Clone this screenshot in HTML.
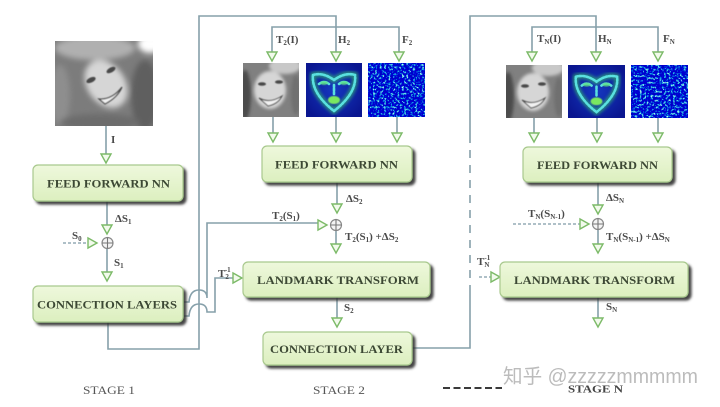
<!DOCTYPE html>
<html><head><meta charset="utf-8"><style>
html,body{margin:0;padding:0;background:#fff;}
svg{display:block;}
</style></head><body>
<svg width="720" height="407" viewBox="0 0 720 407" xmlns="http://www.w3.org/2000/svg">
<defs>
  <linearGradient id="bx" x1="0" y1="0" x2="0" y2="1">
    <stop offset="0" stop-color="#eef8dc"/>
    <stop offset="1" stop-color="#dcefbf"/>
  </linearGradient>
  <filter id="sh" x="-10%" y="-20%" width="130%" height="160%">
    <feDropShadow dx="3" dy="3" stdDeviation="1.3" flood-color="#333" flood-opacity="0.9"/>
  </filter>
  <filter id="bl1"><feGaussianBlur stdDeviation="3"/></filter>
  <filter id="bl2"><feGaussianBlur stdDeviation="1.5"/></filter>
  <filter id="bl05"><feGaussianBlur stdDeviation="0.6"/></filter>
  <filter id="noise" x="0" y="0" width="100%" height="100%">
    <feTurbulence type="fractalNoise" baseFrequency="0.45" numOctaves="2" seed="3" result="n"/>
    <feColorMatrix in="n" type="matrix" values="3 0 0 0 -1.95  3.6 0 0 0 -1.95  0.5 0 0 0 0.42  0 0 0 0 1"/>
  </filter>
  <filter id="noise2" x="0" y="0" width="100%" height="100%">
    <feTurbulence type="fractalNoise" baseFrequency="0.45" numOctaves="2" seed="11" result="n"/>
    <feColorMatrix in="n" type="matrix" values="3 0 0 0 -1.95  3.6 0 0 0 -1.95  0.5 0 0 0 0.42  0 0 0 0 1"/>
  </filter>
  <radialGradient id="hmbg" cx="0.5" cy="0.5" r="0.6">
    <stop offset="0" stop-color="#1538c0"/>
    <stop offset="1" stop-color="#0a1690"/>
  </radialGradient>
  <clipPath id="c1"><rect x="55" y="41" width="98" height="85"/></clipPath>
  <clipPath id="c2"><rect x="243" y="63" width="56" height="54"/></clipPath>
  <clipPath id="c3"><rect x="506" y="65" width="56" height="53"/></clipPath>
  <clipPath id="c4"><rect x="306" y="63" width="56" height="54"/></clipPath>
  <clipPath id="c5"><rect x="568" y="65" width="57" height="53"/></clipPath>
  <symbol id="heart" viewBox="0 0 56 54">
    <g filter="url(#bl2)" stroke="#30b870" stroke-width="6" fill="none" opacity="0.7">
      <path d="M7,12 Q17,9 28,17 Q39,9 49,12 Q51,30 28,48 Q5,30 7,12 Z"/>
    </g>
    <g stroke="#5ae0e0" stroke-width="2.6" fill="none" stroke-dasharray="2 1.6" stroke-linecap="round">
      <path d="M7,12 Q17,9 28,17 Q39,9 49,12 Q51,30 28,48 Q5,30 7,12 Z"/>
      <path d="M13,21 Q18,17 23,21"/>
      <path d="M33,21 Q38,17 43,21"/>
      <path d="M28,22 L28,31"/>
    </g>
    <ellipse cx="28" cy="37" rx="6" ry="4" fill="#7ae860" filter="url(#bl05)"/>
    <ellipse cx="18" cy="20" rx="4" ry="2" fill="#60e080" opacity="0.8" filter="url(#bl05)"/>
    <ellipse cx="38" cy="20" rx="4" ry="2" fill="#60e080" opacity="0.8" filter="url(#bl05)"/>
  </symbol>
</defs>

<rect width="720" height="407" fill="#fff"/>

<!-- ===== Images ===== -->
<g clip-path="url(#c1)">
  <rect x="55" y="41" width="98" height="85" fill="#7c7c7c"/>
  <g filter="url(#bl1)">
    <ellipse cx="95" cy="48" rx="40" ry="12" fill="#b0b0b0"/>
    <ellipse cx="150" cy="44" rx="12" ry="9" fill="#ffffff"/>
    <ellipse cx="60" cy="95" rx="10" ry="30" fill="#8e8e8e"/>
    <ellipse cx="145" cy="95" rx="14" ry="35" fill="#5e5e5e"/>
    <ellipse cx="106" cy="84" rx="19" ry="26" transform="rotate(-35 106 84)" fill="#d6d6d6"/>
    <ellipse cx="100" cy="122" rx="40" ry="8" fill="#6c6c6c"/>
  </g>
  <g filter="url(#bl05)">
    <ellipse cx="91" cy="80" rx="5" ry="2.5" transform="rotate(-25 91 80)" fill="#4a4a4a"/>
    <ellipse cx="111" cy="70" rx="5" ry="2.5" transform="rotate(-30 111 70)" fill="#4a4a4a"/>
    <path d="M99,99 Q112,100 122,87 Q118,97 105,104 Z" fill="#f2f2f2" stroke="#4a4a4a" stroke-width="1.2"/>
  </g>
</g>
<g clip-path="url(#c2)">
  <rect x="243" y="63" width="56" height="54" fill="#808080"/>
  <g filter="url(#bl2)">
    <ellipse cx="285" cy="66" rx="16" ry="8" fill="#c8c8c8"/>
    <ellipse cx="245" cy="95" rx="6" ry="25" fill="#4c4c4c"/>
    <ellipse cx="270" cy="90" rx="16" ry="19" fill="#d6d6d6"/>
    <ellipse cx="296" cy="95" rx="5" ry="20" fill="#707070"/>
  </g>
  <g filter="url(#bl05)">
    <ellipse cx="262" cy="84" rx="4" ry="1.8" fill="#4a4a4a"/>
    <ellipse cx="279" cy="82" rx="4" ry="1.8" fill="#4a4a4a"/>
    <path d="M259,98 Q270,104 282,96 Q278,104 268,106 Z" fill="#f2f2f2" stroke="#4a4a4a" stroke-width="1"/>
  </g>
</g>
<g clip-path="url(#c3)">
  <rect x="506" y="65" width="56" height="53" fill="#808080"/>
  <g filter="url(#bl2)">
    <ellipse cx="548" cy="68" rx="16" ry="8" fill="#c8c8c8"/>
    <ellipse cx="508" cy="97" rx="6" ry="25" fill="#4c4c4c"/>
    <ellipse cx="533" cy="92" rx="16" ry="19" fill="#d6d6d6"/>
    <ellipse cx="559" cy="97" rx="5" ry="20" fill="#707070"/>
  </g>
  <g filter="url(#bl05)">
    <ellipse cx="525" cy="86" rx="4" ry="1.8" fill="#4a4a4a"/>
    <ellipse cx="542" cy="84" rx="4" ry="1.8" fill="#4a4a4a"/>
    <path d="M522,100 Q533,106 545,98 Q541,106 531,108 Z" fill="#f2f2f2" stroke="#4a4a4a" stroke-width="1"/>
  </g>
</g>
<g clip-path="url(#c4)">
  <rect x="306" y="63" width="56" height="54" fill="url(#hmbg)"/>
  <use href="#heart" x="306" y="63" width="56" height="54"/>
</g>
<g clip-path="url(#c5)">
  <rect x="568" y="65" width="57" height="53" fill="url(#hmbg)"/>
  <use href="#heart" x="568" y="65" width="57" height="53"/>
</g>
<rect x="368" y="63" width="57" height="54" filter="url(#noise)" fill="#000"/>
<rect x="631" y="65" width="57" height="53" filter="url(#noise2)" fill="#000"/>

<!-- ===== Connectors ===== -->
<g stroke="#86a0aa" stroke-width="1.6" fill="none">
  <path d="M106,126 V156"/>
  <path d="M107,201 V227"/>
  <path d="M107,249 V274"/>
  <path d="M108,322 V349 H199 V16 H336 V54"/>
  <path d="M184,302 L189,302 Q190,290 199,290 Q207,290 207,298 V223 H319"/>
  <path d="M184,316 L189,316 Q190,304 199,304 Q207,304 207,312 H215 V278 H234"/>
  <path d="M272,54 V27 H399 V54"/>
  <path d="M273,117 V135 M336,117 V135 M397,117 V135"/>
  <path d="M337,182 V205"/>
  <path d="M336,231 V246"/>
  <path d="M337,297 V320"/>
  <path d="M412,348 H470 V293"/>
  <path d="M470,137 V16 H596 V54"/>
  <path d="M532,54 V27 H658 V54"/>
  <path d="M534,118 V135 M597,118 V135 M658,118 V135"/>
  <path d="M598,182 V207"/>
  <path d="M598,230 V246"/>
  <path d="M598,297 V320"/>
</g>
<path d="M470,293 V137" stroke="#86a0aa" stroke-width="1.6" stroke-dasharray="8 7" fill="none"/>
<g stroke="#7f9aa6" stroke-width="1.3" stroke-dasharray="3 2" fill="none">
  <path d="M63,243 H89"/>
  <path d="M513,224 H581"/>
  <path d="M479,277 H492"/>
</g>

<g stroke="#8a8a8a" stroke-width="1.2" fill="#f4f4f4">
  <circle cx="107.5" cy="243" r="5.5"/>
  <circle cx="336" cy="225" r="5.5"/>
  <circle cx="598" cy="224" r="5.5"/>
</g>
<g stroke="#777" stroke-width="1.1">
  <path d="M102,243 H113 M107.5,237.5 V248.5"/>
  <path d="M330.5,225 H341.5 M336,219.5 V230.5"/>
  <path d="M592.5,224 H603.5 M598,218.5 V229.5"/>
</g>

<g stroke="#7cba68" stroke-width="1.4" fill="#f2faec" stroke-linejoin="miter">
  <polygon points="101,154 111,154 106,163"/>
  <polygon points="102,225 112,225 107,234"/>
  <polygon points="102,272 112,272 107,281"/>
  <polygon points="267,52 277,52 272,61"/>
  <polygon points="331,52 341,52 336,61"/>
  <polygon points="394,52 404,52 399,61"/>
  <polygon points="268,133 278,133 273,142"/>
  <polygon points="331,133 341,133 336,142"/>
  <polygon points="392,133 402,133 397,142"/>
  <polygon points="332,204 342,204 337,213"/>
  <polygon points="331,244 341,244 336,253"/>
  <polygon points="332,318 342,318 337,327"/>
  <polygon points="527,52 537,52 532,61"/>
  <polygon points="591,52 601,52 596,61"/>
  <polygon points="653,52 663,52 658,61"/>
  <polygon points="529,133 539,133 534,142"/>
  <polygon points="592,133 602,133 597,142"/>
  <polygon points="653,133 663,133 658,142"/>
  <polygon points="593,205 603,205 598,214"/>
  <polygon points="593,244 603,244 598,253"/>
  <polygon points="593,318 603,318 598,327"/>
  <polygon points="88,238 88,248 97,243"/>
  <polygon points="318,220 318,230 327,225"/>
  <polygon points="233,273 233,283 242,278"/>
  <polygon points="580,219 580,229 589,224"/>
  <polygon points="491,272 491,282 500,277"/>
</g>

<g fill="url(#bx)" stroke="#a9c98e" stroke-width="1.2" filter="url(#sh)">
  <rect x="33" y="165" width="150" height="36" rx="5"/>
  <rect x="33" y="286" width="150" height="36" rx="5"/>
  <rect x="262" y="146" width="150" height="36" rx="5"/>
  <rect x="243" y="262" width="187" height="35" rx="5"/>
  <rect x="263" y="332" width="149" height="33" rx="5"/>
  <rect x="523" y="147" width="149" height="35" rx="5"/>
  <rect x="500" y="262" width="188" height="35" rx="5"/>
</g>
<g font-family="'Liberation Serif', serif" font-weight="bold" font-size="12" fill="#3c4834">
  <text x="47" y="187.5" textLength="123" lengthAdjust="spacingAndGlyphs">FEED FORWARD NN</text>
  <text x="37" y="308.5" textLength="140" lengthAdjust="spacingAndGlyphs">CONNECTION LAYERS</text>
  <text x="275" y="168.5" textLength="123" lengthAdjust="spacingAndGlyphs">FEED FORWARD NN</text>
  <text x="257" y="284" textLength="162" lengthAdjust="spacingAndGlyphs">LANDMARK TRANSFORM</text>
  <text x="270" y="353" textLength="133" lengthAdjust="spacingAndGlyphs">CONNECTION LAYER</text>
  <text x="537" y="169" textLength="121" lengthAdjust="spacingAndGlyphs">FEED FORWARD NN</text>
  <text x="514" y="284" textLength="161" lengthAdjust="spacingAndGlyphs">LANDMARK TRANSFORM</text>
</g>

<g font-family="'Liberation Serif', serif" font-weight="bold" font-size="11" fill="#4a4a4a">
  <text x="111" y="143">I</text>
  <text x="115" y="222">ΔS<tspan font-size="7" dy="2">1</tspan></text>
  <text x="72" y="239">S<tspan font-size="7" dy="2">0</tspan></text>
  <text x="114" y="266">S<tspan font-size="7" dy="2">1</tspan></text>
  <text x="218" y="277">T<tspan font-size="7" dy="2">2</tspan><tspan font-size="7" dx="-4" dy="-7">-1</tspan></text>
  <text x="276" y="43">T<tspan font-size="7" dy="2">2</tspan><tspan dy="-2">(I)</tspan></text>
  <text x="338" y="43">H<tspan font-size="7" dy="2">2</tspan></text>
  <text x="402" y="43">F<tspan font-size="7" dy="2">2</tspan></text>
  <text x="346" y="202">ΔS<tspan font-size="7" dy="2">2</tspan></text>
  <text x="272" y="219">T<tspan font-size="7" dy="2">2</tspan><tspan dy="-2">(S</tspan><tspan font-size="7" dy="2">1</tspan><tspan dy="-2">)</tspan></text>
  <text x="345" y="240">T<tspan font-size="7" dy="2">2</tspan><tspan dy="-2">(S</tspan><tspan font-size="7" dy="2">1</tspan><tspan dy="-2">) +ΔS</tspan><tspan font-size="7" dy="2">2</tspan></text>
  <text x="344" y="311">S<tspan font-size="7" dy="2">2</tspan></text>
  <text x="537" y="42">T<tspan font-size="7" dy="2">N</tspan><tspan dy="-2">(I)</tspan></text>
  <text x="598" y="42">H<tspan font-size="7" dy="2">N</tspan></text>
  <text x="663" y="42">F<tspan font-size="7" dy="2">N</tspan></text>
  <text x="606" y="201">ΔS<tspan font-size="7" dy="2">N</tspan></text>
  <text x="528" y="217">T<tspan font-size="7" dy="2">N</tspan><tspan dy="-2">(S</tspan><tspan font-size="7" dy="2">N-1</tspan><tspan dy="-2">)</tspan></text>
  <text x="606" y="240">T<tspan font-size="7" dy="2">N</tspan><tspan dy="-2">(S</tspan><tspan font-size="7" dy="2">N-1</tspan><tspan dy="-2">) +ΔS</tspan><tspan font-size="7" dy="2">N</tspan></text>
  <text x="477" y="265">T<tspan font-size="7" dy="2">N</tspan><tspan font-size="7" dx="-5" dy="-7">-1</tspan></text>
  <text x="606" y="310">S<tspan font-size="7" dy="2">N</tspan></text>
</g>

<g font-family="'Liberation Serif', serif" font-size="12" fill="#555">
  <text x="83" y="394" textLength="52" lengthAdjust="spacingAndGlyphs">STAGE 1</text>
  <text x="313" y="394" textLength="52" lengthAdjust="spacingAndGlyphs">STAGE 2</text>
</g>
<path d="M443,388 H502" stroke="#3a3a3a" stroke-width="2" stroke-dasharray="7 3.5"/>
<text x="503" y="383" font-family="'Liberation Sans','Noto Sans CJK SC',sans-serif" font-size="20" fill="#bcbcbc" textLength="195" lengthAdjust="spacingAndGlyphs">知乎 @zzzzzmmmmm</text>
<text x="568" y="392.5" font-family="'Liberation Serif', serif" font-weight="bold" font-size="11" fill="#444" textLength="55" lengthAdjust="spacingAndGlyphs">STAGE N</text>
</svg>
</body></html>
